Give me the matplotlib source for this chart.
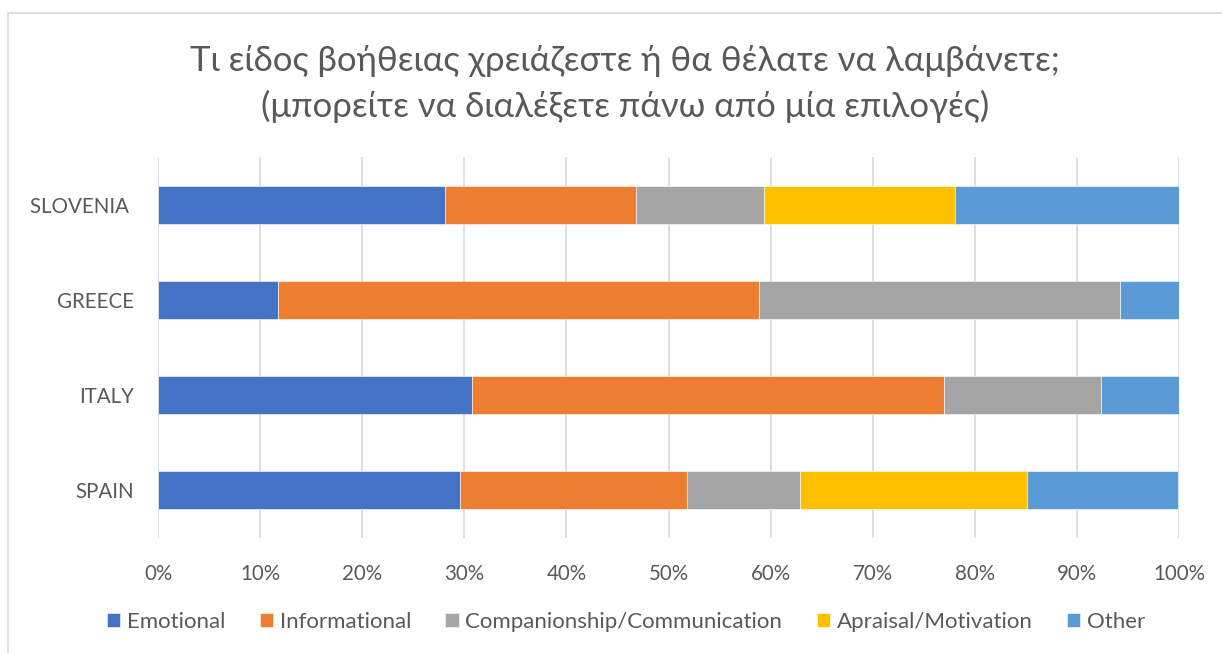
import matplotlib
matplotlib.use("Agg")
import matplotlib.pyplot as plt
from matplotlib.patches import Rectangle
import numpy as np

plt.rcParams['font.family'] = ['Lato', 'DejaVu Sans']

countries = ["SPAIN", "ITALY", "GREECE", "SLOVENIA "]
series_names = ["Emotional", "Informational", "Companionship/Communication",
                "Apraisal/Motivation", "Other"]
emotional = [29.6, 30.8, 11.8, 28.1]
informational = [22.2, 46.2, 47.1, 18.75]
companionship = [11.1, 15.4, 35.3, 12.5]
apraisal = [22.2, 0.0, 0.0, 18.75]
other = [14.8, 7.7, 5.9, 21.9]
colors = ["#4472C4", "#ED7D31", "#A5A5A5", "#FFC000", "#5B9BD5"]
xticks = [0, 10, 20, 30, 40, 50, 60, 70, 80, 90, 100]
xtick_labels = [f"{t}%" for t in xticks]
title = ("Τι είδος βοήθειας χρειάζεστε ή θα θέλατε να λαμβάνετε;\n"
         "(μπορείτε να διαλέξετε πάνω από μία επιλογές)")

W, H = 1222, 653
fig = plt.figure(figsize=(W / 100, H / 100), dpi=100)
ax = fig.add_axes([158 / W, (H - 538) / H, (1179 - 158) / W, (538 - 157) / H])

txt = "#595959"
data = [emotional, informational, companionship, apraisal, other]
y = np.arange(len(countries))
left = np.zeros(len(countries))
for name, vals, c in zip(series_names, data, colors):
    vals = np.array(vals)
    ax.barh(y, vals, left=left, height=0.4, color=c, label=name,
            edgecolor="white", linewidth=0.4, zorder=3)
    left += vals

ax.set_xlim(0, 100)
ax.set_ylim(-0.5, len(countries) - 0.5)
ax.set_yticks(y)
ax.set_yticklabels(countries, fontsize=14.8, color=txt)
ax.set_xticks(xticks)
ax.set_xticklabels(xtick_labels, fontsize=14.8, color=txt)
ax.tick_params(axis='both', length=0)
ax.tick_params(axis='x', pad=19)
ax.tick_params(axis='y', pad=17)
ax.grid(axis='x', color="#D9D9D9", linewidth=1.2, zorder=0)
for s in ax.spines.values():
    s.set_visible(False)

fig.text(625 / W, (H - 84) / H, title, ha='center', va='center',
         fontsize=25, color=txt, linespacing=1.45)

leg = fig.legend(loc='center', bbox_to_anchor=(626 / W, (H - 622) / H), ncol=5,
                 frameon=False, fontsize=16, handlelength=0.6,
                 handleheight=0.6, handletextpad=0.3, columnspacing=1.55)
for t in leg.get_texts():
    t.set_color(txt)

fig.patches.append(Rectangle((8 / W, -0.1), 1.2, (H - 13) / H + 0.1,
                             transform=fig.transFigure, fill=False,
                             edgecolor="#D9D9D9", linewidth=1.2))

fig.savefig("out.png", dpi=100, facecolor="white")
